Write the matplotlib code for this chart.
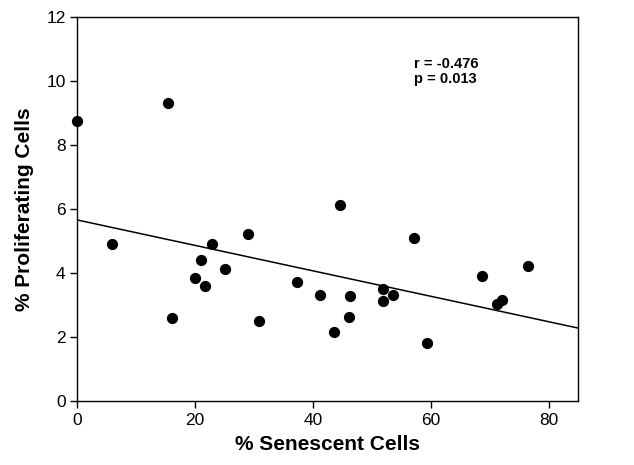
import numpy as np
import matplotlib
matplotlib.use("Agg")
import matplotlib.pyplot as plt

plt.rcParams['font.family'] = ['Liberation Sans', 'DejaVu Sans']

# values
senescent = [0.0, 15.4, 5.9, 16.1, 20.0, 20.9, 21.7, 22.9, 25.1, 29.0, 30.9,
             37.2, 41.1, 43.5, 44.5, 46.2, 46.1, 51.8, 51.9, 53.5, 57.1,
             59.3, 68.6, 71.2, 72.0, 76.4]
proliferating = [8.77, 9.33, 4.90, 2.59, 3.86, 4.40, 3.61, 4.91, 4.14, 5.21, 2.50,
                 3.72, 3.31, 2.17, 6.13, 3.28, 2.63, 3.13, 3.51, 3.31, 5.11,
                 1.82, 3.91, 3.04, 3.17, 4.21]
fit_x = [0, 85]
fit_y = [5.66, 2.28]
stats_text = "r = -0.476\np = 0.013"

fig = plt.figure(figsize=(6.34, 4.65), dpi=100)
ax = fig.add_axes([0.122, 0.1376, 0.79, 0.8254])

ax.plot(fit_x, fit_y, color='black', lw=1.1, zorder=2)
ax.scatter(senescent, proliferating, s=50, color='black', zorder=3, clip_on=False)

ax.set_xlim(0, 85)
ax.set_ylim(0, 12)
ax.set_xticks([0, 20, 40, 60, 80])
ax.set_yticks([0, 2, 4, 6, 8, 10, 12])
ax.tick_params(direction='out', length=5, width=1, labelsize=12.5, top=False, right=False)
for s in ax.spines.values():
    s.set_linewidth(1)

ax.set_xlabel("% Senescent Cells", fontsize=15, fontweight='bold', labelpad=5)
ax.set_ylabel("% Proliferating Cells", fontsize=15, fontweight='bold', labelpad=9)

ax.text(57.1, 10.75, stats_text, fontsize=10.5, fontweight='bold', va='top', ha='left',
        linespacing=1.05)

fig.savefig("out.png", dpi=100)
